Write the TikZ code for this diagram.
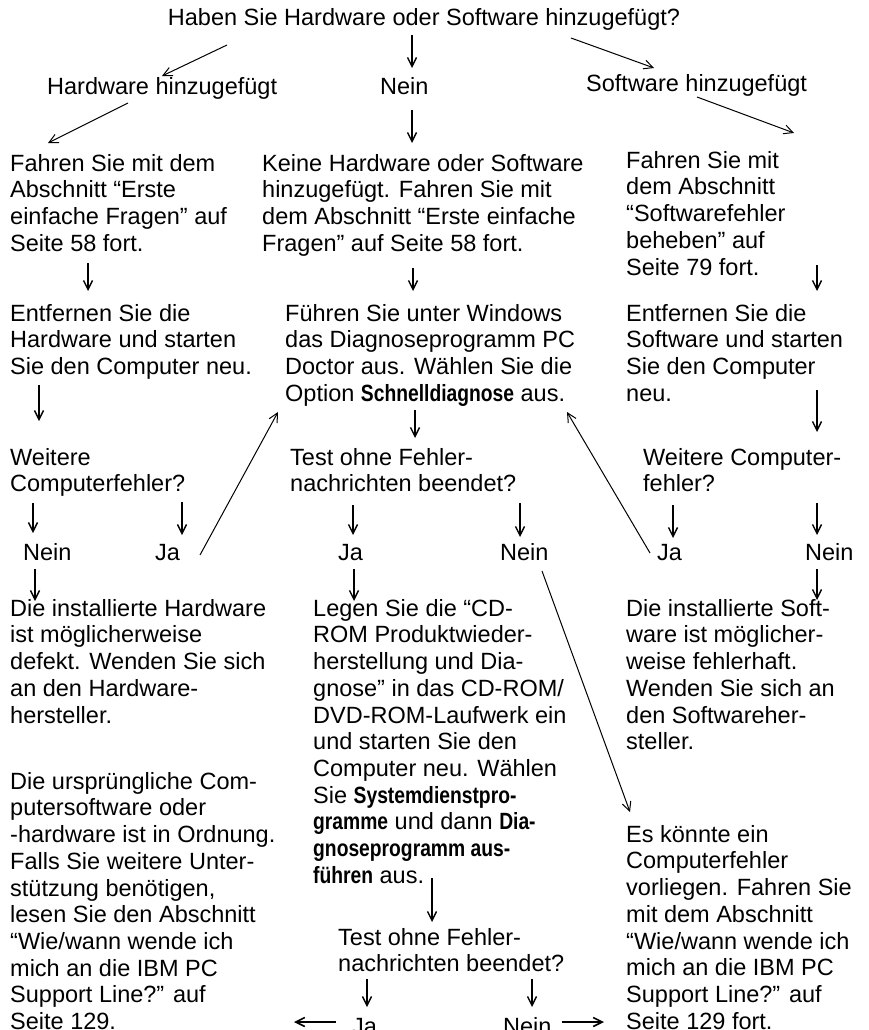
\documentclass[tikz,border=0pt]{standalone}
\usepackage{fontspec}
\setmainfont{Liberation Sans}
\newfontfamily\cbfont[FakeStretch=0.82]{Liberation Sans}
\newcommand\kb[1]{{\cbfont\bfseries #1}}
\newcommand\fs{\rule{0pt}{19pt}}
\usetikzlibrary{arrows.meta}
\tikzset{
  txt/.style={anchor=north west, inner sep=0pt, align=left, font=\fontsize{23.5}{26.7}\selectfont},
  lab/.style={anchor=base west, inner sep=0pt, font=\fontsize{23.5}{26.7}\selectfont},
  arr/.style={-{Straight Barb[length=9pt,width=9pt]}, line width=1pt},
  varr/.style={arr, line width=1.4pt},
  harr/.style={-{Straight Barb[length=9pt,width=9pt]}, line width=1.6pt},
}
\begin{document}
\begin{tikzpicture}[x=1pt,y=-1pt]
\useasboundingbox (0,0) rectangle (869,1030);
\clip (0,0) rectangle (869,1030);
% texts
\node[lab, anchor=base] (q) at (424,26) {Haben Sie Hardware oder Software hinzugefügt?};
\node[lab] (hw) at (47,95) {Hardware hinzugefügt};
\node[lab] (n0) at (380,95) {Nein};
\node[lab] (sw) at (586,92) {Software hinzugefügt};

\node[txt] (hwc) at (10,152) {\fs Fahren Sie mit dem\\Abschnitt “Erste\\einfache Fragen” auf\\Seite 58 fort.};
\node[txt] (noc) at (262,152) {\fs Keine Hardware oder Software\\hinzugefügt. Fahren Sie mit\\dem Abschnitt “Erste einfache\\Fragen” auf Seite 58 fort.};
\node[txt] (swc) at (626,149) {\fs Fahren Sie mit\\dem Abschnitt\\“Softwarefehler\\beheben” auf\\Seite 79 fort.};

\node[txt] (hwr) at (10,302) {\fs Entfernen Sie die\\Hardware und starten\\Sie den Computer neu.};
\node[txt] (pcd) at (285,302) {\fs Führen Sie unter Windows\\das Diagnoseprogramm PC\\Doctor aus. Wählen Sie die\\Option \kb{Schnelldiagnose} aus.};
\node[txt] (swr) at (626,302) {\fs Entfernen Sie die\\Software und starten\\Sie den Computer\\neu.};

\node[txt] (hwq) at (10,446) {\fs Weitere\\Computerfehler?};
\node[txt] (t1) at (290,446) {\fs Test ohne Fehler-\\nachrichten beendet?};
\node[txt] (swq) at (643,446) {\fs Weitere Computer-\\fehler?};

\node[lab] (hwn) at (23,560) {Nein};
\node[lab] (hwj) at (155,560) {Ja};
\node[lab] (t1j) at (338,560) {Ja};
\node[lab] (t1n) at (500,560) {Nein};
\node[lab] (swj) at (657,560) {Ja};
\node[lab] (swn) at (805,560) {Nein};

\node[txt] (hwd) at (10,597) {\fs Die installierte Hardware\\ist möglicherweise\\defekt. Wenden Sie sich\\an den Hardware-\\hersteller.};
\node[txt] (cd) at (313,597) {\fs Legen Sie die “CD-\\ROM Produktwieder-\\herstellung und Dia-\\gnose” in das CD-ROM/\\DVD-ROM-Laufwerk ein\\und starten Sie den\\Computer neu. Wählen\\Sie \kb{Systemdienstpro-}\\\kb{gramme} und dann \kb{Dia-}\\\kb{gnoseprogramm aus-}\\\kb{führen} aus.};
\node[txt] (swd) at (626,597) {\fs Die installierte Soft-\\ware ist möglicher-\\weise fehlerhaft.\\Wenden Sie sich an\\den Softwareher-\\steller.};

\node[txt] (ok) at (10,770) {\fs Die ursprüngliche Com-\\putersoftware oder\\-hardware ist in Ordnung.\\Falls Sie weitere Unter-\\stützung benötigen,\\lesen Sie den Abschnitt\\“Wie/wann wende ich\\mich an die IBM PC\\Support Line?” auf\\Seite 129.};
\node[txt] (err) at (626,823) {\fs Es könnte ein\\Computerfehler\\vorliegen. Fahren Sie\\mit dem Abschnitt\\“Wie/wann wende ich\\mich an die IBM PC\\Support Line?” auf\\Seite 129 fort.};

\node[txt] (t2) at (338,926) {\fs Test ohne Fehler-\\nachrichten beendet?};
\node[lab] (t2j) at (352,1034) {Ja};
\node[lab] (t2n) at (503,1034) {Nein};

% arrow end points
\coordinate (a1s) at (227,45);  \coordinate (a1e) at (162,76);
\coordinate (a2s) at (412,35);  \coordinate (a2e) at (412,68);
\coordinate (a3s) at (571,38);  \coordinate (a3e) at (654,68);
\coordinate (a4s) at (128,103); \coordinate (a4e) at (48,143);
\coordinate (a5s) at (412,110); \coordinate (a5e) at (412,143);
\coordinate (a6s) at (697,97);  \coordinate (a6e) at (794,133);
\coordinate (a7s) at (88,263);  \coordinate (a7e) at (88,291);
\coordinate (a8s) at (413,268); \coordinate (a8e) at (413,291);
\coordinate (a9s) at (817,265); \coordinate (a9e) at (817,291);
\coordinate (b1s) at (39,385);  \coordinate (b1e) at (39,421);
\coordinate (b2s) at (415,410); \coordinate (b2e) at (415,438);
\coordinate (b3s) at (817,390); \coordinate (b3e) at (817,432);
\coordinate (c1s) at (33,503);  \coordinate (c1e) at (33,533);
\coordinate (c2s) at (182,502); \coordinate (c2e) at (182,535);
\coordinate (c3s) at (353,505); \coordinate (c3e) at (353,535);
\coordinate (c4s) at (520,503); \coordinate (c4e) at (520,537);
\coordinate (c5s) at (673,505); \coordinate (c5e) at (673,538);
\coordinate (c6s) at (817,503); \coordinate (c6e) at (817,535);
\coordinate (u1s) at (200,555); \coordinate (u1e) at (278,412);
\coordinate (u2s) at (650,553); \coordinate (u2e) at (567,412);
\coordinate (d1s) at (35,569);  \coordinate (d1e) at (35,601);
\coordinate (d2s) at (354,569); \coordinate (d2e) at (354,601);
\coordinate (d3s) at (817,569); \coordinate (d3e) at (817,600);
\coordinate (lgs) at (542,571); \coordinate (lge) at (630,812);
\coordinate (e1s) at (432,878); \coordinate (e1e) at (432,922);
\coordinate (f1s) at (367,979); \coordinate (f1e) at (367,1007);
\coordinate (f2s) at (532,979); \coordinate (f2e) at (532,1007);
\coordinate (g1s) at (336,1022); \coordinate (g1e) at (294,1022);
\coordinate (g2s) at (562,1022); \coordinate (g2e) at (604,1022);

\foreach \a in {a2,a5,a7,a8,a9,b1,b2,b3,c1,c2,c3,c4,c5,c6,d1,d2,d3,e1,f1,f2}
  \draw[varr] (\a s) -- (\a e);
\foreach \a in {a1,a3,a4,a6,u1,u2,lg}
  \draw[arr] (\a s) -- (\a e);
\draw[harr] (g1s) -- (g1e);
\draw[harr] (g2s) -- (g2e);
\end{tikzpicture}
\end{document}
